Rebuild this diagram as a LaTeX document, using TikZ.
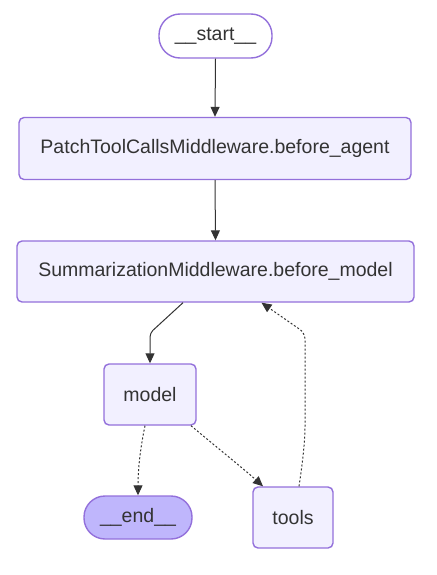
\documentclass[tikz,border=0pt]{standalone}
\usepackage{fontspec}
\setmainfont{Liberation Sans}
\usetikzlibrary{arrows.meta,calc}
\definecolor{nodefill}{HTML}{F2F0FF}
\definecolor{nodeline}{HTML}{9370DB}
\definecolor{endfill}{HTML}{BFB6FC}
\definecolor{edgecol}{HTML}{333333}
\definecolor{txt}{HTML}{333333}
\tikzset{
  box/.style={draw=nodeline, fill=nodefill, line width=1.4pt, rounded corners=5pt,
    inner sep=0pt, text=txt, font=\fontsize{19.5}{20}\selectfont, align=center},
  pill/.style={box, rounded corners=21pt},
  edge/.style={draw=edgecol, line width=1pt, -{Triangle[length=10pt,width=9pt]}},
  cond/.style={edge, dash pattern=on 2pt off 2pt}
}
\begin{document}
\begin{tikzpicture}[x=1pt,y=-1pt]
\useasboundingbox (0,0) rectangle (436,575);
\node[pill, fill=white, minimum width=113pt, minimum height=44pt] (start) at (215.5,36) {\_\_start\_\_};
\node[box, minimum width=392pt, minimum height=62pt] (patch) at (215,148.5) {PatchToolCallsMiddleware.before\_agent};
\node[box, minimum width=397pt, minimum height=61pt] (summ) at (215.5,271.5) {SummarizationMiddleware.before\_model};
\node[box, minimum width=92pt, minimum height=61pt] (model) at (150,394.5) {model};
\node[pill, fill=endfill, minimum width=108pt, minimum height=43pt] (end) at (138,517.5) {\_\_end\_\_};
\node[box, minimum width=80pt, minimum height=61pt] (tools) at (293,517.5) {tools};

\draw[edge] (start.south) -- (patch.north);
\draw[edge] (patch.south) -- (summ.north);
\draw[edge, rounded corners=4pt] ([xshift=-32.5pt]summ.south) -- (150,333) -- (model.north);
\draw[cond] ([xshift=-5pt]model.south) .. controls (140,450) and (138,470) .. (end.north);
\draw[cond] ([xshift=41pt]model.south) .. controls (220,450) and (245,470) .. ([xshift=-30pt]tools.north);
\draw[cond, rounded corners=6pt] ([xshift=6pt]tools.north) .. controls (303,460) and (305,440) .. (305,420) -- (305,333) -- ([xshift=46pt]summ.south);
\end{tikzpicture}
\end{document}
